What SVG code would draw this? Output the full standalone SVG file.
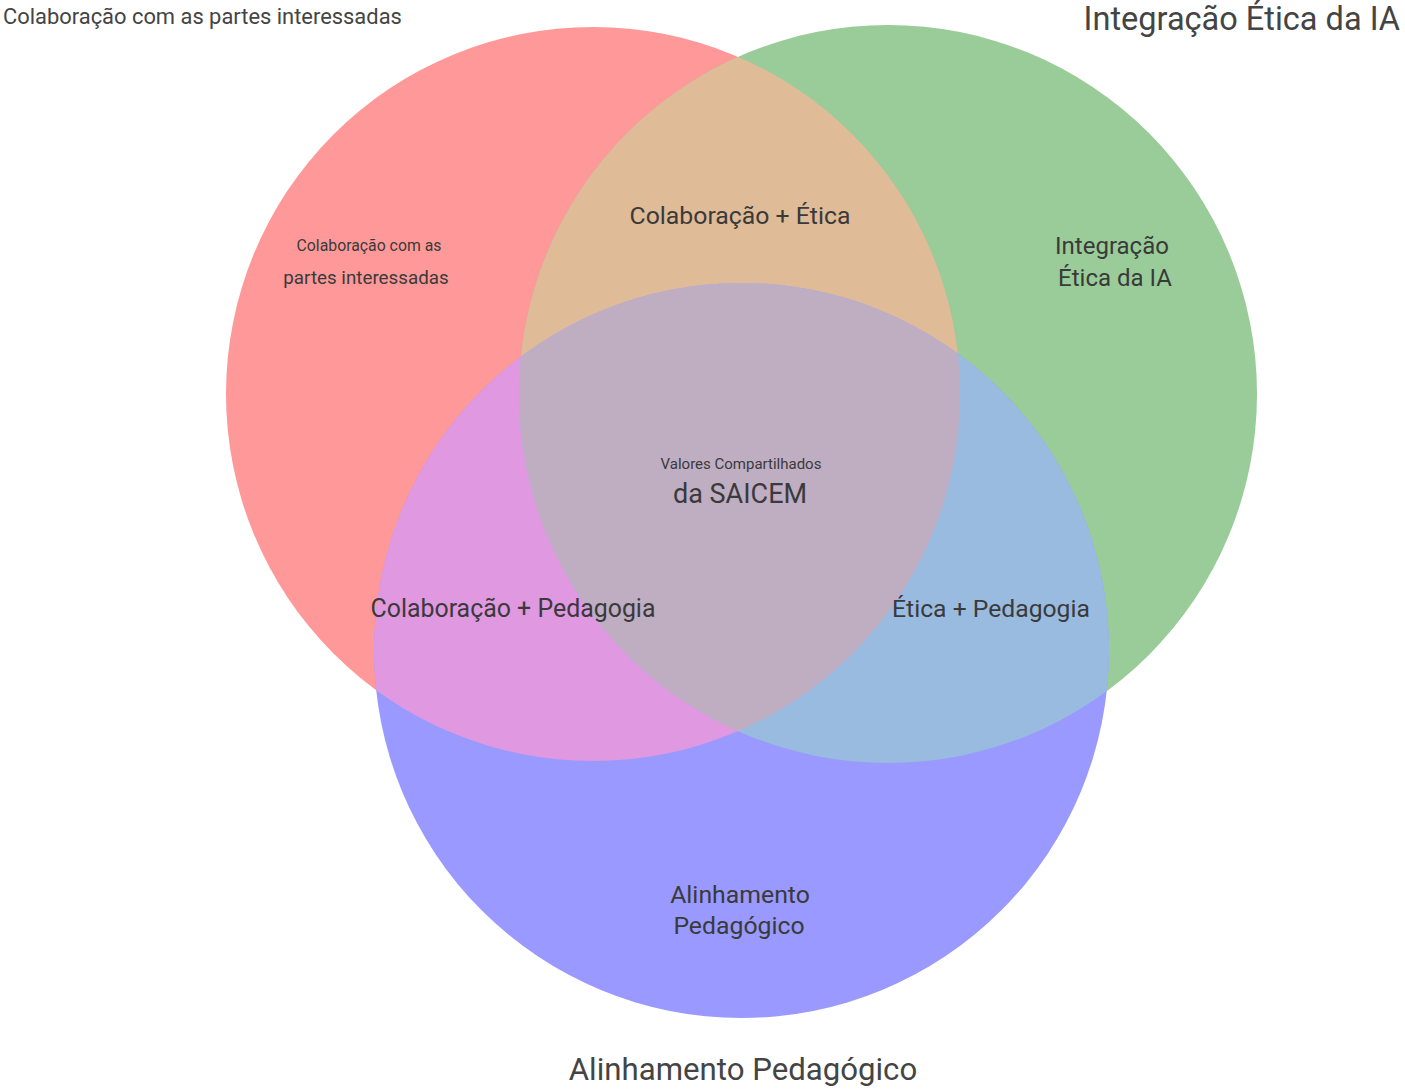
<svg xmlns="http://www.w3.org/2000/svg" width="1405" height="1090" viewBox="0 0 1405 1090">
<style>
text{font-family:Roboto,"Open Sans","Liberation Sans",sans-serif;fill:#3a3a3a}
.title{fill:#444}
.m{text-anchor:middle}
</style>
<defs>
<clipPath id="cR"><circle cx="593" cy="394" r="367"/></clipPath>
<clipPath id="cG"><circle cx="888" cy="394" r="369"/></clipPath>
</defs>
<rect width="1405" height="1090" fill="#fff"/>
<g id="set-colaboracao"><circle cx="593" cy="394" r="367" fill="#ff9999"/></g>
<g id="set-etica"><circle cx="888" cy="394" r="369" fill="#99cc99"/></g>
<g id="set-pedagogia"><circle cx="741.5" cy="650.5" r="367.5" fill="#9999ff"/></g>
<g id="overlap-colab-etica"><circle cx="888" cy="394" r="369" fill="#e0bb97" clip-path="url(#cR)"/></g>
<g id="overlap-colab-ped"><circle cx="741.5" cy="650.5" r="367.5" fill="#e098e0" clip-path="url(#cR)"/></g>
<g id="overlap-etica-ped"><circle cx="741.5" cy="650.5" r="367.5" fill="#99bbe0" clip-path="url(#cG)"/></g>
<g id="overlap-center"><g clip-path="url(#cG)"><circle cx="741.5" cy="650.5" r="367.5" fill="#bfadc2" clip-path="url(#cR)"/></g></g>
<g id="connectors"></g>
<g id="labels">
<text class="title" x="3" y="24" font-size="21.9">Colaboração com as partes interessadas</text>
<text class="title" x="1400" y="30" font-size="32.5" text-anchor="end">Integração Ética da IA</text>
<text class="title m" x="743" y="1080" font-size="31.2">Alinhamento Pedagógico</text>
<text class="m" x="369" y="251" font-size="15.8">Colaboração com as</text>
<text class="m" x="366" y="284" font-size="18.8">partes interessadas</text>
<text class="m" x="1112" y="254" font-size="24">Integração</text>
<text class="m" x="1115" y="286" font-size="24">Ética da IA</text>
<text class="m" x="740" y="224" font-size="24.8">Colaboração + Ética</text>
<text class="m" x="741" y="469" font-size="15">Valores Compartilhados</text>
<text class="m" x="740" y="503" font-size="27">da SAICEM</text>
<text class="m" x="513" y="617" font-size="24.9">Colaboração + Pedagogia</text>
<text class="m" x="991" y="617" font-size="24.7">Ética + Pedagogia</text>
<text class="m" x="740" y="903" font-size="24.8">Alinhamento</text>
<text class="m" x="739" y="934" font-size="24.8">Pedagógico</text>
</g>
</svg>
